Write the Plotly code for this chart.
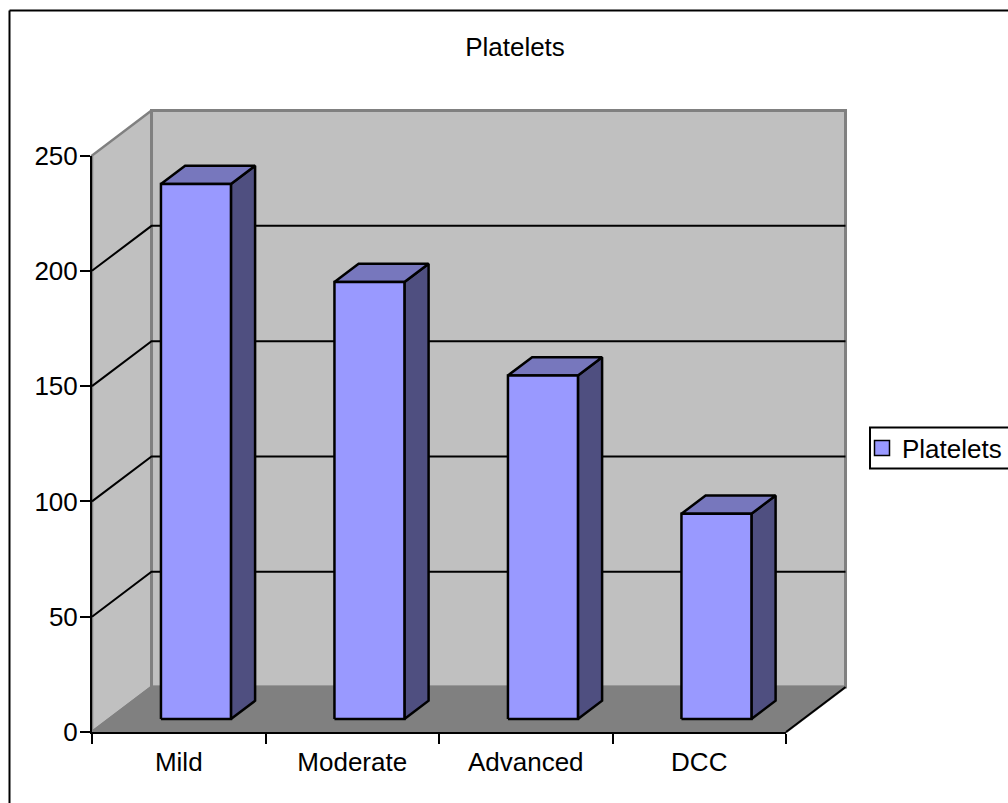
import plotly.graph_objects as go

# Chart data
categories = ["Mild", "Moderate", "Advanced", "DCC"]
platelets = [232, 189.5, 149, 89]
value_ticks = [0, 50, 100, 150, 200, 250]
grid_values = [50, 100, 150, 200]
series_name = "Platelets"

WIDTH, HEIGHT = 1008, 803
FONT = "Liberation Sans"
FONT_SIZE = 26

# Page extent of the front plane of the 3D box
LEFT_PX, RIGHT_PX = 92, 786
BOTTOM_PX, TOP_PX = 732, 155.5

# Oblique projection: one full unit of depth shifts a point right and up
DEPTH_X = 0.343      # in category units
DEPTH_Y = 19.5       # in value units
BAR_HALF = 0.2017    # half bar width, in category units
BAR_FRONT = 0.289    # depth of a bar's front face
BAR_BACK = 0.695     # depth of a bar's back face

WALL = "#C0C0C0"
FLOOR = "#808080"
EDGE = "#808080"
BAR_FRONT_COLOR = "#9999FF"
BAR_TOP_COLOR = "#7777BD"
BAR_SIDE_COLOR = "#4F4F80"

X_MAX = len(categories)
Y_MAX = value_ticks[-1]

# The box is drawn on full-page axes with the same scale as the visible axes,
# so faces that project beyond the front plane are not clipped
px_per_cat = (RIGHT_PX - LEFT_PX) / X_MAX
px_per_val = (BOTTOM_PX - TOP_PX) / Y_MAX
page_x_range = [-LEFT_PX / px_per_cat, (WIDTH - LEFT_PX) / px_per_cat]
page_y_range = [(BOTTOM_PX - HEIGHT) / px_per_val, BOTTOM_PX / px_per_val]


def project(cat, value, depth):
    return cat + depth * DEPTH_X, value + depth * DEPTH_Y


def polygon(corners, fill=None, line=None, width=2.5):
    pts = [project(*c) for c in corners]
    return go.Scatter(
        x=[p[0] for p in pts],
        y=[p[1] for p in pts],
        mode="lines",
        line=dict(color=line or "rgba(0,0,0,0)", width=width),
        fill="toself" if fill else "none",
        fillcolor=fill,
        showlegend=False,
        hoverinfo="skip",
    )


fig = go.Figure()

# Side wall, back wall and floor of the 3D box
fig.add_trace(polygon([(0, 0, 0), (0, Y_MAX, 0), (0, Y_MAX, 1), (0, 0, 1), (0, 0, 0)], WALL, EDGE))
fig.add_trace(polygon([(0, 0, 1), (0, Y_MAX, 1), (X_MAX, Y_MAX, 1), (X_MAX, 0, 1), (0, 0, 1)], WALL, EDGE, 3))
fig.add_trace(polygon([(0, 0, 0), (X_MAX, 0, 0), (X_MAX, 0, 1), (0, 0, 1), (0, 0, 0)], FLOOR, FLOOR))
fig.add_trace(polygon([(X_MAX, 0, 0), (X_MAX, 0, 1)], None, "#000000", 2))

# Gridlines run along the side wall and across the back wall
for v in grid_values:
    fig.add_trace(polygon([(0, v, 0), (0, v, 1), (X_MAX, v, 1)], None, "#000000", 2))

# Each bar is a right side face, a top face and a front face
for i, val in enumerate(platelets):
    left, right = i + 0.5 - BAR_HALF, i + 0.5 + BAR_HALF
    fig.add_trace(polygon(
        [(right, 0, BAR_FRONT), (right, 0, BAR_BACK), (right, val, BAR_BACK),
         (right, val, BAR_FRONT), (right, 0, BAR_FRONT)],
        BAR_SIDE_COLOR, "#000000"))
    fig.add_trace(polygon(
        [(left, val, BAR_FRONT), (left, val, BAR_BACK), (right, val, BAR_BACK),
         (right, val, BAR_FRONT), (left, val, BAR_FRONT)],
        BAR_TOP_COLOR, "#000000"))
    fig.add_trace(polygon(
        [(left, 0, BAR_FRONT), (left, val, BAR_FRONT), (right, val, BAR_FRONT),
         (right, 0, BAR_FRONT), (left, 0, BAR_FRONT)],
        BAR_FRONT_COLOR, "#000000"))

# Legend entry for the series; it also brings the visible axes into the figure
fig.add_trace(go.Scatter(
    x=[None], y=[None], xaxis="x2", yaxis="y2", mode="markers", name=series_name,
    marker=dict(symbol="square", size=15, color=BAR_FRONT_COLOR,
                line=dict(color="#000000", width=1.5)),
    showlegend=True,
))

black_line = dict(color="#000000", width=2)
frame = dict(type="line", xref="paper", yref="paper", line=black_line)

hidden_axis = dict(domain=[0, 1], visible=False, fixedrange=True)

fig.update_layout(
    width=WIDTH,
    height=HEIGHT,
    margin=dict(l=0, r=0, t=0, b=0, autoexpand=False),
    paper_bgcolor="#FFFFFF",
    plot_bgcolor="rgba(0,0,0,0)",
    font=dict(family=FONT, size=FONT_SIZE, color="#000000"),
    title=dict(
        text=series_name, x=515 / WIDTH, xref="paper", xanchor="center",
        y=1 - 47 / HEIGHT, yref="paper", yanchor="middle",
        font=dict(family=FONT, size=FONT_SIZE, color="#000000"),
    ),
    xaxis=dict(hidden_axis, range=page_x_range),
    yaxis=dict(hidden_axis, range=page_y_range),
    xaxis2=dict(
        domain=[LEFT_PX / WIDTH, RIGHT_PX / WIDTH],
        anchor="y2",
        range=[0, X_MAX],
        tickvals=[i + 0.5 for i in range(X_MAX)],
        ticktext=categories,
        ticks="",
        showgrid=False,
        zeroline=False,
        showline=True,
        linecolor="#000000",
        linewidth=2,
        minor=dict(tickvals=list(range(X_MAX + 1)), ticks="outside", ticklen=10,
                   tickwidth=2, tickcolor="#000000", showgrid=False),
        ticklabelstandoff=6,
    ),
    yaxis2=dict(
        domain=[1 - BOTTOM_PX / HEIGHT, 1 - TOP_PX / HEIGHT],
        anchor="x2",
        range=[0, Y_MAX],
        tickvals=value_ticks,
        ticks="outside",
        ticklen=10,
        tickwidth=2,
        tickcolor="#000000",
        ticklabelstandoff=-3,
        showgrid=False,
        zeroline=False,
        showline=True,
        linecolor="#000000",
        linewidth=2,
    ),
    legend=dict(
        x=862 / WIDTH, xanchor="left",
        y=1 - 448 / HEIGHT, yanchor="middle",
        bgcolor="rgba(0,0,0,0)",
        borderwidth=0,
        font=dict(family=FONT, size=FONT_SIZE, color="#000000"),
    ),
    shapes=[
        # Chart-area border: only the top and left edges fall inside the page
        dict(frame, x0=9.5 / WIDTH, x1=1.01, y0=1 - 10.5 / HEIGHT, y1=1 - 10.5 / HEIGHT),
        dict(frame, x0=9.5 / WIDTH, x1=9.5 / WIDTH, y0=1 - 10.5 / HEIGHT, y1=-0.01),
        # Legend box, running off the right side of the page
        dict(type="rect", xref="paper", yref="paper", line=black_line, fillcolor="#FFFFFF",
             x0=870 / WIDTH, x1=1.05, y0=1 - 427.5 / HEIGHT, y1=1 - 468.5 / HEIGHT),
    ],
)

fig.write_html("out.html", config=dict(displayModeBar=False))
